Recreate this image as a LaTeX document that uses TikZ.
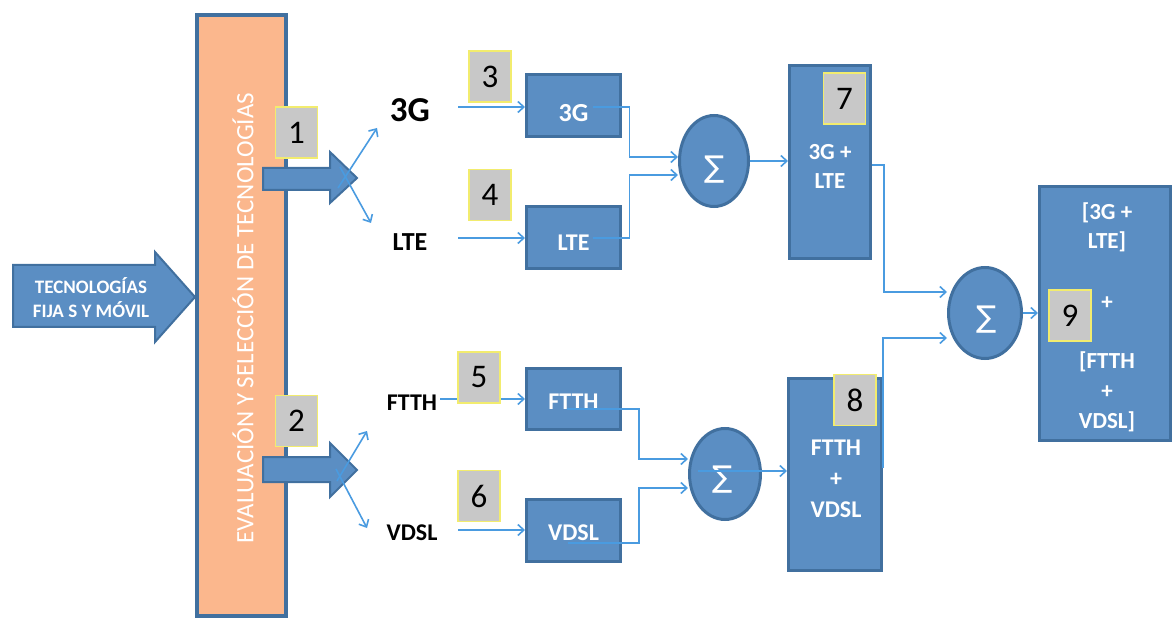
\documentclass[tikz,border=0pt]{standalone}
\usepackage{fontspec}
\setmainfont{Carlito}
\newfontfamily\symfont{DejaVu Sans}
\usetikzlibrary{arrows.meta,shapes.geometric}
\definecolor{boxfill}{HTML}{5B8EC3}
\definecolor{boxline}{HTML}{41709F}
\definecolor{conncol}{HTML}{4A9BE0}
\definecolor{barfill}{HTML}{FBB78D}
\definecolor{labfill}{HTML}{C8C8C8}
\definecolor{labline}{HTML}{F2EC6E}
\begin{document}
\begin{tikzpicture}[x=1pt,y=-1pt,
  blk/.style={draw=boxline, fill=boxfill, line width=3pt, inner sep=0pt},
  sig/.style={blk, ellipse},
  sigtxt/.style={text=white, inner sep=0pt, font=\symfont\fontsize{30}{30}\selectfont},
  lab/.style={draw=labline, fill=labfill, line width=1.5pt, minimum width=42pt, minimum height=51pt, inner sep=0pt, font=\fontsize{33}{34}\selectfont},
  wtxt/.style={text=white, font=\bfseries\fontsize{24}{30}\selectfont, align=center, inner sep=0pt},
  btxt/.style={text=black, font=\bfseries\fontsize{24}{28}\selectfont, inner sep=0pt},
  bigarrow/.style={draw=boxline, fill=boxfill, line width=2pt, line join=miter},
  conn/.style={draw=conncol, line width=1.6pt, -{Straight Barb[length=6pt,width=11pt]}},
]
\useasboundingbox (0,0) rectangle (1173,620);

% evaluation bar
\node[draw=boxline, fill=barfill, line width=4pt, minimum width=89pt, minimum height=601pt, inner sep=0pt] (bar) at (241.5,315.5) {};
\node[rotate=90, text=white, font=\fontsize{25}{25}\selectfont, inner sep=0pt] (bartxt) at (243,318) {EVALUACIÓN Y SELECCIÓN DE TECNOLOGÍAS};

% input arrow
\draw[bigarrow] (13,265) -- (155,265) -- (155,252) -- (195,297) -- (155,342) -- (155,327) -- (13,327) -- cycle;
\node[wtxt, font=\bfseries\fontsize{19}{24}\selectfont] (intxt) at (91,298) {TECNOLOGÍAS\\FIJA S Y MÓVIL};

% output block arrows
\draw[bigarrow] (263,168) -- (330,168) -- (330,152) -- (357,178) -- (330,203) -- (330,190) -- (263,190) -- cycle;
\draw[bigarrow] (263,457) -- (330,457) -- (330,443) -- (357,470) -- (330,497) -- (330,482) -- (263,482) -- cycle;

% technology names
\node[btxt, font=\bfseries\fontsize{35}{35}\selectfont] (t3G) at (410,110) {3G};
\node[btxt, font=\bfseries\fontsize{26}{26}\selectfont] (tLTE) at (410,242) {LTE};
\node[btxt] (tFTTH) at (412,403) {FTTH};
\node[btxt] (tVDSL) at (412,533) {VDSL};

% boxes
\node[blk, minimum width=94pt, minimum height=62pt] (box3G) at (573.5,105.5) {};
\node[blk, minimum width=94pt, minimum height=62pt] (boxLTE) at (573.5,237.5) {};
\node[blk, minimum width=94pt, minimum height=61pt] (boxFTTH) at (573.5,399) {};
\node[blk, minimum width=94pt, minimum height=62pt] (boxVDSL) at (573.5,530.5) {};
\node[blk, minimum width=81pt, minimum height=193pt] (box7) at (830,162) {};
\node[blk, minimum width=93pt, minimum height=192pt] (box8) at (835,474.5) {};
\node[blk, minimum width=131pt, minimum height=254pt] (box9) at (1105,313.5) {};

\node[wtxt, font=\bfseries\fontsize{26}{30}\selectfont] (x3G) at (573.5,113) {3G};
\node[wtxt] (xLTE) at (573.5,243) {LTE};
\node[wtxt] (xFTTH) at (573.5,402) {FTTH};
\node[wtxt] (xVDSL) at (573.5,533) {VDSL};
\node[wtxt, font=\bfseries\fontsize{23}{29}\selectfont] (x7) at (830,166) {3G +\\LTE};
\node[wtxt, font=\bfseries\fontsize{24}{31}\selectfont] (x8) at (836,479) {FTTH\\+\\VDSL};
\node[wtxt, font=\bfseries\fontsize{23}{29}\selectfont] (x9a) at (1107,227) {[3G +\\LTE]};
\node[wtxt, font=\bfseries\fontsize{23}{29}\selectfont] (x9p) at (1107,303) {+};
\node[wtxt, font=\bfseries\fontsize{23}{30}\selectfont] (x9b) at (1107,392) {[FTTH\\+\\VDSL]};

% summation nodes
\node[sig, minimum width=69pt, minimum height=91pt] (sig1) at (714,161) {};
\node[sig, minimum width=71pt, minimum height=91pt] (sig2) at (725,474) {};
\node[sig, minimum width=73pt, minimum height=91pt] (sig3) at (985,313) {};
\node[sigtxt] (s1t) at (715,170) {∑};
\node[sigtxt] (s2t) at (723,480) {∑};
\node[sigtxt] (s3t) at (987,320) {∑};

% fan-out arrows
\coordinate (f1s) at (338,188); \coordinate (f1e) at (377,128);
\coordinate (f2s) at (340,167); \coordinate (f2e) at (371,223);
\coordinate (f3s) at (337,481); \coordinate (f3e) at (367,431);
\coordinate (f4s) at (336,469); \coordinate (f4e) at (367,528);
\draw[conn] (f1s) -- (f1e);
\draw[conn] (f2s) -- (f2e);
\draw[conn] (f3s) -- (f3e);
\draw[conn] (f4s) -- (f4e);

% inputs to boxes
\coordinate (i3G) at (458,107);
\coordinate (iLTE) at (458,238);
\coordinate (iFTTH) at (440,399);
\coordinate (iVDSL) at (458,530);
\draw[conn] (i3G) -- (i3G -| box3G.west);
\draw[conn] (iLTE) -- (iLTE -| boxLTE.west);
\draw[conn] (iFTTH) -- (iFTTH -| boxFTTH.west);
\draw[conn] (iVDSL) -- (iVDSL -| boxVDSL.west);

% to summations
\draw[conn] ([xshift=19pt,yshift=-1.5pt]box3G.center) -- ++(37,0) |- ([yshift=4pt]sig1.west);
\draw[conn] ([xshift=19pt,yshift=-0.5pt]boxLTE.center) -- ++(37,0) |- ([yshift=-14pt]sig1.west);
\draw[conn] (sig1.east) -- (sig1.east -| box7.west);
\draw[conn] ([xshift=-6.5pt,yshift=-10pt]boxFTTH.center) -- ++(72,0) |- ([yshift=15pt]sig2.west);
\draw[conn] ([xshift=-5.5pt,yshift=-12.5pt]boxVDSL.center) -- ++(71,0) |- ([yshift=-14pt]sig2.west);
\draw[conn] ([xshift=-27pt,yshift=3pt]sig2.center) -- ([yshift=3pt]sig2.center -| box8.west);
\draw[conn] ([yshift=-3pt]box7.east) -- ++(12,0) |- ([yshift=21pt]sig3.west);
\draw[conn] ([yshift=7pt]box8.east) |- ([yshift=-25pt]sig3.west);
\draw[conn] (sig3.east) -- (sig3.east -| box9.west);

% number labels
\node[lab] (lab1) at (296.5,132.5) {1};
\node[lab] (lab2) at (296.5,421) {2};
\node[lab] (lab3) at (490,76.5) {3};
\node[lab] (lab4) at (490,195) {4};
\node[lab] (lab5) at (479,377.5) {5};
\node[lab] (lab6) at (479,496) {6};
\node[lab] (lab7) at (844.5,98.5) {7};
\node[lab] (lab8) at (855,400) {8};
\node[lab] (lab9) at (1070,315.5) {9};
\end{tikzpicture}
\end{document}
